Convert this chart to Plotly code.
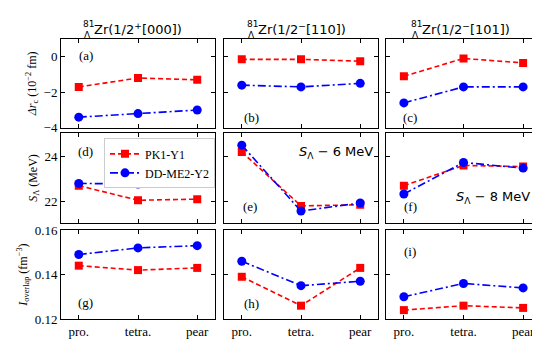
import plotly.graph_objects as go

W, H = 540, 341

categories = ["pro.", "tetra.", "pear"]
series_names = ["PK1-Y1", "DD-ME2-Y2"]

# Row 1: Delta r_c (10^-2 fm)
drc_pk1 = [[-1.7, -1.2, -1.3], [-0.15, -0.15, -0.25], [-1.1, -0.1, -0.35]]
drc_dd = [[-3.4, -3.2, -3.0], [-1.6, -1.7, -1.5], [-2.6, -1.7, -1.7]]
# Row 2: S_Lambda (MeV) (col 2 shifted by -6, col 3 by -8)
sl_pk1 = [[22.7, 22.05, 22.1], [24.2, 21.8, 21.85], [22.7, 23.6, 23.55]]
sl_dd = [[22.8, 22.77, 22.89], [24.5, 21.57, 21.93], [22.33, 23.73, 23.48]]
# Row 3: I_overlap (fm^-3)
io_pk1 = [[0.144, 0.142, 0.143], [0.139, 0.126, 0.143], [0.124, 0.126, 0.125]]
io_dd = [[0.149, 0.152, 0.153], [0.146, 0.135, 0.137], [0.130, 0.136, 0.134]]

row_data = [(drc_pk1, drc_dd), (sl_pk1, sl_dd), (io_pk1, io_dd)]
y_ranges = [[-4, 1], [21.02, 25.06], [0.12, 0.16]]
y_ticks = [[-4, -2, 0], [22, 24], [0.12, 0.14, 0.16]]
y_ticktext = [["\u22124", "\u22122", "0"], ["22", "24"], ["0.12", "0.14", "0.16"]]
y_titles = ["<i>\u0394r</i><sub>c</sub> (10<sup>\u22122</sup> fm)",
            "<i>S</i><sub>\u039b</sub> (MeV)",
            "<i>I</i><sub>overlap</sub> (fm<sup>\u22123</sup>)"]
col_titles = ["Zr(1/2<sup>+</sup>[000])", "Zr(1/2<sup>\u2212</sup>[110])", "Zr(1/2<sup>\u2212</sup>[101])"]
panel_labels = ["(a)", "(b)", "(c)", "(d)", "(e)", "(f)", "(g)", "(h)", "(i)"]

# layout in pixels
col_px = [(53, 207), (216, 370), (378, 533)]
row_px = [(25, 118), (123, 218), (225, 318)]

def px(x):
    return x / W

def py(y):
    return 1 - y / H

SERIF = "Liberation Serif"
fig = go.Figure()
layout = {}

for r in range(3):
    for c in range(3):
        k = r * 3 + c
        n = "" if k == 0 else str(k + 1)
        pk, dd = row_data[r]
        fig.add_trace(go.Scatter(
            x=[0, 1, 2], y=pk[c], mode="lines+markers", name=series_names[0],
            line=dict(color="#ff0000", width=1.6, dash="5px,3px"),
            marker=dict(symbol="square", size=8, color="#ff0000"),
            xaxis="x" + n, yaxis="y" + n, showlegend=(k == 3), legendgroup="pk"))
        fig.add_trace(go.Scatter(
            x=[0, 1, 2], y=dd[c], mode="lines+markers", name=series_names[1],
            line=dict(color="#0000ff", width=1.6, dash="8px,3px,2px,3px"),
            marker=dict(symbol="circle", size=9, color="#0000ff"),
            xaxis="x" + n, yaxis="y" + n, showlegend=(k == 3), legendgroup="dd"))
        x0, x1 = col_px[c]
        y0, y1 = row_px[r]
        common = dict(showline=True, linecolor="black", linewidth=1, mirror="ticks",
                      ticks="inside", ticklen=4, tickcolor="black", showgrid=False,
                      zeroline=False, tickfont=dict(family=SERIF, size=13, color="black"))
        layout["xaxis" + n] = dict(
            domain=[px(x0), px(x1)], range=[-0.3, 2.3], anchor="y" + n,
            tickvals=[0, 1, 2], ticktext=categories, showticklabels=(r == 2), **common)
        ya = dict(domain=[py(y1), py(y0)], range=y_ranges[r], anchor="x" + n,
                  tickvals=y_ticks[r], ticktext=y_ticktext[r], showticklabels=(c == 0), **common)
        if c == 0:
            ya["title"] = dict(text=y_titles[r], font=dict(family=SERIF, size=12, color="black"), standoff=4)
        layout["yaxis" + n] = ya

annotations = []
# column titles
title_x = [85, 249, 413]
for c in range(3):
    annotations.append(dict(text=col_titles[c], x=px(title_x[c]), y=py(15), xref="paper", yref="paper",
                            xanchor="left", yanchor="middle", showarrow=False, borderpad=0,
                            font=dict(family="DejaVu Sans", size=13, color="black")))
    annotations.append(dict(text="81", x=px(title_x[c] + 2), y=py(9), xref="paper", yref="paper",
                            xanchor="right", yanchor="middle", showarrow=False, borderpad=0,
                            font=dict(family="DejaVu Sans", size=9, color="black")))
    annotations.append(dict(text="\u039b", x=px(title_x[c] - 1), y=py(21), xref="paper", yref="paper",
                            xanchor="right", yanchor="middle", showarrow=False, borderpad=0,
                            font=dict(family="DejaVu Sans", size=9, color="black")))

label_pos = [(78, 42), (243, 107), (402, 107), (78, 143), (242, 200), (402, 200),
             (78, 301), (243, 302), (402, 247)]
for lab, (lx, ly) in zip(panel_labels, label_pos):
    annotations.append(dict(text=lab, x=px(lx), y=py(ly), xref="paper", yref="paper",
                            xanchor="center", yanchor="middle", showarrow=False,
                            font=dict(family=SERIF, size=13, color="black")))

annotations.append(dict(text="<i>S</i><sub>\u039b</sub> \u2212 6 MeV", x=px(367), y=py(144), xref="paper", yref="paper",
                        xanchor="right", yanchor="middle", showarrow=False,
                        font=dict(family="DejaVu Sans", size=13, color="black")))
annotations.append(dict(text="<i>S</i><sub>\u039b</sub> \u2212 8 MeV", x=px(524), y=py(191), xref="paper", yref="paper",
                        xanchor="right", yanchor="middle", showarrow=False,
                        font=dict(family="DejaVu Sans", size=13, color="black")))

fig.update_layout(
    width=W, height=H, margin=dict(l=0, r=0, t=0, b=0),
    paper_bgcolor="white", plot_bgcolor="white",
    showlegend=True,
    legend=dict(x=px(96), y=py(129), xanchor="left", yanchor="top",
                bgcolor="white", bordercolor="#cccccc", borderwidth=1,
                font=dict(family=SERIF, size=12, color="black"),
                tracegroupgap=0),
    annotations=annotations,
    **layout)

fig.write_html("out.html")
